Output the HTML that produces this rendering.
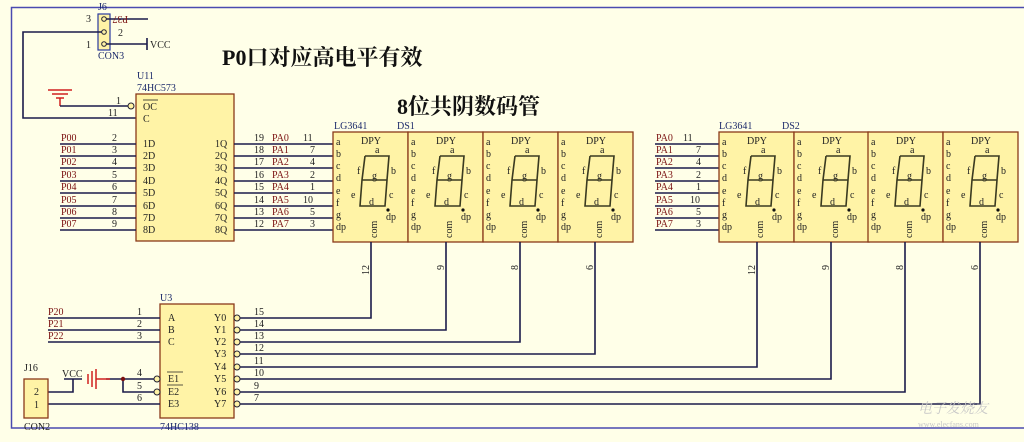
<!DOCTYPE html>
<html><head><meta charset="utf-8"><style>
html,body{margin:0;padding:0;background:#ffffe8;}
svg{display:block;font-family:"Liberation Serif","Noto Serif CJK SC",serif;}
.w{stroke:#1c1c4a;stroke-width:1.6;fill:none}
.t{font-size:10px;fill:#222}
.r{font-size:10px;fill:#7a1010}
.b{font-size:10px;fill:#1c2a6a}
.seg{stroke:#3a3a20;stroke-width:1.6;fill:none}
.box{fill:#fff3a6;stroke:#8a3a1a;stroke-width:1.3}
</style></head><body>
<svg width="1024" height="442" viewBox="0 0 1024 442" xmlns="http://www.w3.org/2000/svg">
<rect width="1024" height="442" fill="#ffffe8"/>
<!-- border -->
<path d="M1024,7.5 H11.5 V428 H1024" stroke="#4a4ab0" stroke-width="1.5" fill="none"/>

<!-- J6 -->
<text x="98" y="10" class="b" font-size="9">J6</text>
<rect x="98" y="14" width="12" height="36" fill="#fff3a6" stroke="#2a3aa0" stroke-width="1.2"/>
<circle cx="104" cy="19" r="2.3" fill="none" stroke="#223"/>
<circle cx="104" cy="32" r="2.3" fill="none" stroke="#223"/>
<circle cx="104" cy="44" r="2.3" fill="none" stroke="#223"/>
<text x="86" y="22" class="t">3</text>
<text x="86" y="48" class="t">1</text>
<text x="118" y="36" class="t">2</text>
<path class="w" d="M106,19 H148"/>
<text x="146" y="22" class="r" transform="rotate(180 137 19)">P37</text>
<path class="w" d="M106,44 H147 M147,38 V50"/>
<text x="150" y="48" class="t">VCC</text>
<text x="98" y="59" class="b">CON3</text>
<path class="w" d="M102,32 H23 V118 H136"/>

<!-- titles -->
<text x="222" y="65" font-size="22" font-weight="bold" fill="#111">P0口对应高电平有效</text>
<text x="397" y="114" font-size="22" font-weight="bold" fill="#111">8位共阴数码管</text>

<!-- U11 -->
<text x="137" y="79" class="b">U11</text>
<text x="137" y="91" class="b">74HC573</text>
<rect x="136" y="94" width="98" height="147" class="box"/>
<path d="M48,90 H72 M52,94 H68 M56,98 H64 M60,98 V106" stroke="#d02020" stroke-width="1.5" fill="none"/>
<path class="w" d="M60,106 H128"/>
<circle cx="131" cy="106" r="3" fill="#fff3a6" stroke="#223"/>
<text x="116" y="104" class="t">1</text>
<text x="108" y="116" class="t">11</text>
<text x="143" y="110" class="t">OC</text><path d="M143,100 H158" stroke="#222" stroke-width="0.8"/>
<text x="143" y="122" class="t">C</text>

<g class="w">
<path d="M60,144 H136 M60,156 H136 M60,168 H136 M60,181 H136 M60,193 H136 M60,206 H136 M60,218 H136 M60,230 H136"/>
<path d="M234,144 H333 M234,156 H333 M234,168 H333 M234,181 H333 M234,193 H333 M234,206 H333 M234,218 H333 M234,230 H333"/>
<path d="M655,144 H719 M655,156 H719 M655,168 H719 M655,181 H719 M655,193 H719 M655,206 H719 M655,218 H719 M655,230 H719"/>
</g>
<g class="r">
<text x="61" y="141">P00</text><text x="61" y="153">P01</text><text x="61" y="165">P02</text><text x="61" y="178">P03</text>
<text x="61" y="190">P04</text><text x="61" y="203">P05</text><text x="61" y="215">P06</text><text x="61" y="227">P07</text>
<text x="272" y="141">PA0</text><text x="272" y="153">PA1</text><text x="272" y="165">PA2</text><text x="272" y="178">PA3</text>
<text x="272" y="190">PA4</text><text x="272" y="203">PA5</text><text x="272" y="215">PA6</text><text x="272" y="227">PA7</text>
<text x="656" y="141">PA0</text><text x="656" y="153">PA1</text><text x="656" y="165">PA2</text><text x="656" y="178">PA3</text>
<text x="656" y="190">PA4</text><text x="656" y="203">PA5</text><text x="656" y="215">PA6</text><text x="656" y="227">PA7</text>
</g>
<g class="t">
<text x="112" y="141">2</text><text x="112" y="153">3</text><text x="112" y="165">4</text><text x="112" y="178">5</text>
<text x="112" y="190">6</text><text x="112" y="203">7</text><text x="112" y="215">8</text><text x="112" y="227">9</text>
<text x="143" y="147">1D</text><text x="143" y="159">2D</text><text x="143" y="171">3D</text><text x="143" y="184">4D</text>
<text x="143" y="196">5D</text><text x="143" y="209">6D</text><text x="143" y="221">7D</text><text x="143" y="233">8D</text>
<text x="215" y="147">1Q</text><text x="215" y="159">2Q</text><text x="215" y="171">3Q</text><text x="215" y="184">4Q</text>
<text x="215" y="196">5Q</text><text x="215" y="209">6Q</text><text x="215" y="221">7Q</text><text x="215" y="233">8Q</text>
<text x="254" y="141">19</text><text x="254" y="153">18</text><text x="254" y="165">17</text><text x="254" y="178">16</text>
<text x="254" y="190">15</text><text x="254" y="203">14</text><text x="254" y="215">13</text><text x="254" y="227">12</text>
<text x="303" y="141">11</text><text x="310" y="153">7</text><text x="310" y="165">4</text><text x="310" y="178">2</text>
<text x="310" y="190">1</text><text x="303" y="203">10</text><text x="310" y="215">5</text><text x="310" y="227">3</text>
<text x="683" y="141">11</text><text x="696" y="153">7</text><text x="696" y="165">4</text><text x="696" y="178">2</text>
<text x="696" y="190">1</text><text x="690" y="203">10</text><text x="696" y="215">5</text><text x="696" y="227">3</text>
</g>
<text x="334" y="129" class="b">LG3641</text><text x="397" y="129" class="b">DS1</text>
<text x="719" y="129" class="b">LG3641</text><text x="782" y="129" class="b">DS2</text>

<!-- display 1 -->
<g transform="translate(333,132)">
<rect width="75" height="110" class="box"/>
<g class="t"><text x="3" y="13">a</text><text x="3" y="25">b</text><text x="3" y="37">c</text><text x="3" y="49">d</text><text x="3" y="62">e</text><text x="3" y="74">f</text><text x="3" y="86">g</text><text x="3" y="98">dp</text>
<text x="28" y="12">DPY</text><text x="42" y="21">a</text><text x="24" y="42">f</text><text x="58" y="42">b</text><text x="39" y="47">g</text><text x="18" y="66">e</text><text x="56" y="66">c</text><text x="36" y="73">d</text><text x="53" y="88">dp</text>
<text transform="translate(44,106) rotate(-90)">com</text></g>
<path class="seg" d="M32,24 H56 L54,48 L52,74 H27 L29,48 L32,24 M29,48 H54"/><circle cx="55" cy="78" r="1.6" fill="#111"/>
</g>
<g transform="translate(408,132)">
<rect width="75" height="110" class="box"/>
<g class="t"><text x="3" y="13">a</text><text x="3" y="25">b</text><text x="3" y="37">c</text><text x="3" y="49">d</text><text x="3" y="62">e</text><text x="3" y="74">f</text><text x="3" y="86">g</text><text x="3" y="98">dp</text>
<text x="28" y="12">DPY</text><text x="42" y="21">a</text><text x="24" y="42">f</text><text x="58" y="42">b</text><text x="39" y="47">g</text><text x="18" y="66">e</text><text x="56" y="66">c</text><text x="36" y="73">d</text><text x="53" y="88">dp</text>
<text transform="translate(44,106) rotate(-90)">com</text></g>
<path class="seg" d="M32,24 H56 L54,48 L52,74 H27 L29,48 L32,24 M29,48 H54"/><circle cx="55" cy="78" r="1.6" fill="#111"/>
</g>
<g transform="translate(483,132)">
<rect width="75" height="110" class="box"/>
<g class="t"><text x="3" y="13">a</text><text x="3" y="25">b</text><text x="3" y="37">c</text><text x="3" y="49">d</text><text x="3" y="62">e</text><text x="3" y="74">f</text><text x="3" y="86">g</text><text x="3" y="98">dp</text>
<text x="28" y="12">DPY</text><text x="42" y="21">a</text><text x="24" y="42">f</text><text x="58" y="42">b</text><text x="39" y="47">g</text><text x="18" y="66">e</text><text x="56" y="66">c</text><text x="36" y="73">d</text><text x="53" y="88">dp</text>
<text transform="translate(44,106) rotate(-90)">com</text></g>
<path class="seg" d="M32,24 H56 L54,48 L52,74 H27 L29,48 L32,24 M29,48 H54"/><circle cx="55" cy="78" r="1.6" fill="#111"/>
</g>
<g transform="translate(558,132)">
<rect width="75" height="110" class="box"/>
<g class="t"><text x="3" y="13">a</text><text x="3" y="25">b</text><text x="3" y="37">c</text><text x="3" y="49">d</text><text x="3" y="62">e</text><text x="3" y="74">f</text><text x="3" y="86">g</text><text x="3" y="98">dp</text>
<text x="28" y="12">DPY</text><text x="42" y="21">a</text><text x="24" y="42">f</text><text x="58" y="42">b</text><text x="39" y="47">g</text><text x="18" y="66">e</text><text x="56" y="66">c</text><text x="36" y="73">d</text><text x="53" y="88">dp</text>
<text transform="translate(44,106) rotate(-90)">com</text></g>
<path class="seg" d="M32,24 H56 L54,48 L52,74 H27 L29,48 L32,24 M29,48 H54"/><circle cx="55" cy="78" r="1.6" fill="#111"/>
</g>
<g transform="translate(719,132)">
<rect width="75" height="110" class="box"/>
<g class="t"><text x="3" y="13">a</text><text x="3" y="25">b</text><text x="3" y="37">c</text><text x="3" y="49">d</text><text x="3" y="62">e</text><text x="3" y="74">f</text><text x="3" y="86">g</text><text x="3" y="98">dp</text>
<text x="28" y="12">DPY</text><text x="42" y="21">a</text><text x="24" y="42">f</text><text x="58" y="42">b</text><text x="39" y="47">g</text><text x="18" y="66">e</text><text x="56" y="66">c</text><text x="36" y="73">d</text><text x="53" y="88">dp</text>
<text transform="translate(44,106) rotate(-90)">com</text></g>
<path class="seg" d="M32,24 H56 L54,48 L52,74 H27 L29,48 L32,24 M29,48 H54"/><circle cx="55" cy="78" r="1.6" fill="#111"/>
</g>
<g transform="translate(794,132)">
<rect width="75" height="110" class="box"/>
<g class="t"><text x="3" y="13">a</text><text x="3" y="25">b</text><text x="3" y="37">c</text><text x="3" y="49">d</text><text x="3" y="62">e</text><text x="3" y="74">f</text><text x="3" y="86">g</text><text x="3" y="98">dp</text>
<text x="28" y="12">DPY</text><text x="42" y="21">a</text><text x="24" y="42">f</text><text x="58" y="42">b</text><text x="39" y="47">g</text><text x="18" y="66">e</text><text x="56" y="66">c</text><text x="36" y="73">d</text><text x="53" y="88">dp</text>
<text transform="translate(44,106) rotate(-90)">com</text></g>
<path class="seg" d="M32,24 H56 L54,48 L52,74 H27 L29,48 L32,24 M29,48 H54"/><circle cx="55" cy="78" r="1.6" fill="#111"/>
</g>
<g transform="translate(868,132)">
<rect width="75" height="110" class="box"/>
<g class="t"><text x="3" y="13">a</text><text x="3" y="25">b</text><text x="3" y="37">c</text><text x="3" y="49">d</text><text x="3" y="62">e</text><text x="3" y="74">f</text><text x="3" y="86">g</text><text x="3" y="98">dp</text>
<text x="28" y="12">DPY</text><text x="42" y="21">a</text><text x="24" y="42">f</text><text x="58" y="42">b</text><text x="39" y="47">g</text><text x="18" y="66">e</text><text x="56" y="66">c</text><text x="36" y="73">d</text><text x="53" y="88">dp</text>
<text transform="translate(44,106) rotate(-90)">com</text></g>
<path class="seg" d="M32,24 H56 L54,48 L52,74 H27 L29,48 L32,24 M29,48 H54"/><circle cx="55" cy="78" r="1.6" fill="#111"/>
</g>
<g transform="translate(943,132)">
<rect width="75" height="110" class="box"/>
<g class="t"><text x="3" y="13">a</text><text x="3" y="25">b</text><text x="3" y="37">c</text><text x="3" y="49">d</text><text x="3" y="62">e</text><text x="3" y="74">f</text><text x="3" y="86">g</text><text x="3" y="98">dp</text>
<text x="28" y="12">DPY</text><text x="42" y="21">a</text><text x="24" y="42">f</text><text x="58" y="42">b</text><text x="39" y="47">g</text><text x="18" y="66">e</text><text x="56" y="66">c</text><text x="36" y="73">d</text><text x="53" y="88">dp</text>
<text transform="translate(44,106) rotate(-90)">com</text></g>
<path class="seg" d="M32,24 H56 L54,48 L52,74 H27 L29,48 L32,24 M29,48 H54"/><circle cx="55" cy="78" r="1.6" fill="#111"/>
</g>

<!-- com wires -->
<g class="w">
<path d="M240,318 H371 V242"/>
<path d="M240,330 H446 V242"/>
<path d="M240,342 H520 V242"/>
<path d="M240,354 H595 V242"/>
<path d="M240,367 H757 V242"/>
<path d="M240,379 H831 V242"/>
<path d="M240,392 H905 V242"/>
<path d="M240,404 H980 V242"/>
</g>
<g class="t">
<text transform="translate(369,275) rotate(-90)">12</text>
<text transform="translate(444,270) rotate(-90)">9</text>
<text transform="translate(518,270) rotate(-90)">8</text>
<text transform="translate(593,270) rotate(-90)">6</text>
<text transform="translate(755,275) rotate(-90)">12</text>
<text transform="translate(829,270) rotate(-90)">9</text>
<text transform="translate(903,270) rotate(-90)">8</text>
<text transform="translate(978,270) rotate(-90)">6</text>
</g>

<!-- U3 74HC138 -->
<text x="160" y="301" class="b">U3</text>
<rect x="160" y="304" width="74" height="114" class="box"/>
<path class="w" d="M48,318 H160 M48,330 H160 M48,342 H160"/>
<g class="r"><text x="48" y="315">P20</text><text x="48" y="327">P21</text><text x="48" y="339">P22</text></g>
<g class="t">
<text x="137" y="315">1</text><text x="137" y="327">2</text><text x="137" y="339">3</text>
<text x="168" y="321">A</text><text x="168" y="333">B</text><text x="168" y="345">C</text>
<text x="214" y="321">Y0</text><text x="214" y="333">Y1</text><text x="214" y="345">Y2</text><text x="214" y="357">Y3</text>
<text x="214" y="370">Y4</text><text x="214" y="382">Y5</text><text x="214" y="395">Y6</text><text x="214" y="407">Y7</text>
<text x="254" y="315">15</text><text x="254" y="327">14</text><text x="254" y="339">13</text><text x="254" y="351">12</text>
<text x="254" y="364">11</text><text x="254" y="376">10</text><text x="254" y="389">9</text><text x="254" y="401">7</text>
<text x="168" y="382">E1</text><text x="168" y="395">E2</text><text x="168" y="407">E3</text>
<text x="137" y="376">4</text><text x="137" y="389">5</text><text x="137" y="401">6</text>
</g>
<path d="M167,372 H183 M167,385 H183" stroke="#222" stroke-width="0.8"/>
<g fill="#fff3a6" stroke="#223" stroke-width="1">
<circle cx="237" cy="318" r="3"/><circle cx="237" cy="330" r="3"/><circle cx="237" cy="342" r="3"/><circle cx="237" cy="354" r="3"/>
<circle cx="237" cy="367" r="3"/><circle cx="237" cy="379" r="3"/><circle cx="237" cy="392" r="3"/><circle cx="237" cy="404" r="3"/>
<circle cx="157" cy="379" r="3"/><circle cx="157" cy="392" r="3"/>
</g>
<path class="w" d="M106,379 H154 M123,379 V392 H154 M48,404 H160"/>
<circle cx="123" cy="379" r="2.2" fill="#7a1010"/>
<path d="M88,374 V384 M92,371 V387 M96,369 V389 M96,379 H110" stroke="#d02020" stroke-width="1.5" fill="none"/>
<text x="62" y="377" class="t">VCC</text>
<path class="w" d="M64,379 H82 M73,379 V392 H48"/>
<text x="24" y="371" class="t">J16</text>
<rect x="24" y="379" width="24" height="39" class="box"/>
<text x="34" y="395" class="t">2</text><text x="34" y="408" class="t">1</text>
<text x="24" y="430" class="t">CON2</text>
<text x="160" y="430" class="b">74HC138</text>

<!-- watermark -->
<text x="918" y="413" font-size="14" fill="#c8c8c8" font-style="italic">电子发烧友</text>
<text x="918" y="427" font-size="8" fill="#c8c8c8">www.elecfans.com</text>
</svg>
</body></html>
